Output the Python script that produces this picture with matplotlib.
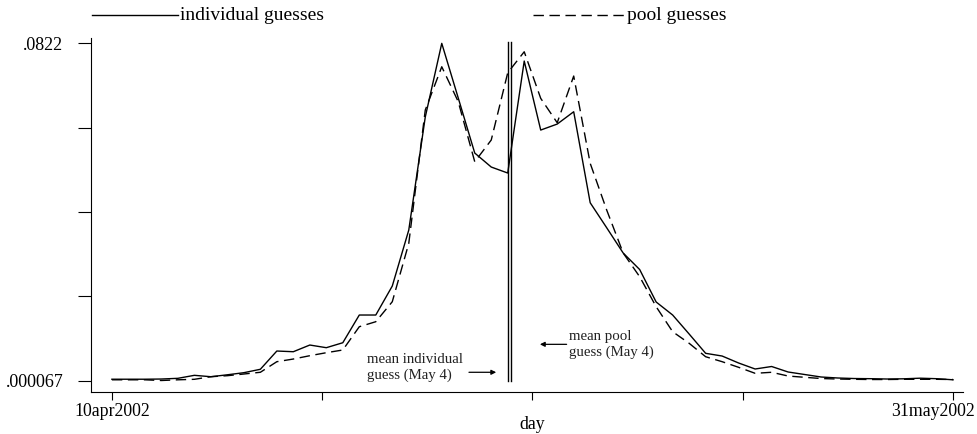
import numpy as np
import pandas as pd
import matplotlib
matplotlib.use('Agg')
import matplotlib.pyplot as plt
from matplotlib.lines import Line2D
from matplotlib.transforms import ScaledTranslation

plt.rcParams['font.family'] = ['Liberation Serif', 'DejaVu Serif']

# daily share of guesses, 10 Apr 2002 .. 31 May 2002
dates = pd.date_range('2002-04-10', '2002-05-31', freq='D')

individual = [0.00038, 0.00038, 0.00038, 0.00043, 0.00060, 0.00133, 0.00099, 0.00146,
              0.00197, 0.00280, 0.00725, 0.00708, 0.00871, 0.00806, 0.00927, 0.01602,
              0.01602, 0.02308, 0.03672, 0.06425, 0.08220, 0.06888, 0.05548, 0.05207,
              0.05061, 0.07789, 0.06108, 0.06254, 0.06554, 0.04337, 0.03728, 0.03112,
              0.02710, 0.01919, 0.01602, 0.01139, 0.00669, 0.00603, 0.00433, 0.00287,
              0.00348, 0.00214, 0.00153, 0.00092, 0.00068, 0.00055, 0.00051, 0.00043,
              0.00048, 0.00063, 0.00051, 0.00024]

pool = [0.00024, 0.00024, 0.00024, 0.000067, 0.00024, 0.00036, 0.00099, 0.00124,
        0.00165, 0.00207, 0.00465, 0.00530, 0.00611, 0.00684, 0.00750, 0.01317,
        0.01439, 0.01926, 0.03348, 0.06595, 0.07650, 0.06798, 0.05336, 0.05865,
        0.07504, 0.08015, 0.06880, 0.06286, 0.07424, 0.05297, 0.04160, 0.03112,
        0.02535, 0.01804, 0.01195, 0.00913, 0.00586, 0.00465, 0.00328, 0.00182,
        0.00207, 0.00116, 0.00085, 0.00055, 0.00043, 0.00036, 0.00031, 0.00031,
        0.00036, 0.00036, 0.00036, 0.00031]

mean_individual_day = 24.0   # May 4
mean_pool_day = 24.2         # May 4

y_ticks = [0.000067, 0.020600, 0.041133, 0.061667, 0.0822]
y_ticklabels = ['.000067', '', '', '', '.0822']
x_ticklabels = ['10apr2002', '', '', '', '31may2002']

days = np.asarray((dates - dates[0]).days, dtype=float)

fig = plt.figure(figsize=(9.78, 4.34), dpi=100)
ax = fig.add_axes([0.0930, 0.0968, 0.8916, 0.8156])

ax.plot(days, individual, color='black', lw=1.0)
ax.plot(days, pool, color='black', lw=1.0, dashes=(7.5, 4))

# mean guess markers (double vertical line)
for d in (mean_individual_day, mean_pool_day):
    ax.plot([d, d], [y_ticks[0], y_ticks[-1] + 0.0004], color='black', lw=1.0)

ax.set_xlim(-1.27, 51.6)
ax.set_ylim(-0.00273, 0.0835)

ax.set_xticks(np.linspace(days[0], days[-1], 5))
ax.set_xticklabels(x_ticklabels, fontsize=12.8)
ax.set_yticks(y_ticks)
ax.set_yticklabels(y_ticklabels, fontsize=13)
ax.tick_params(axis='y', length=9.4, width=0.8, pad=10.5)
ax.tick_params(axis='x', length=5.8, width=0.8, pad=2)

# last date label is pulled left so it stays inside the picture
last = ax.get_xticklabels()[-1]
last.set_transform(last.get_transform() + ScaledTranslation(-0.20, 0, fig.dpi_scale_trans))

for s in ('top', 'right'):
    ax.spines[s].set_visible(False)
for s in ('left', 'bottom'):
    ax.spines[s].set_linewidth(0.8)

ax.set_xlabel('day', fontsize=12.8)
ax.xaxis.set_label_coords(0.5057, -0.068)

# annotations
ax.text(15.45, 0.00328, 'mean individual\nguess (May 4)', fontsize=10.7,
        ha='left', va='center', linespacing=1.25, color='#222222')
ax.annotate('', xy=(23.3, 0.00207), xytext=(21.65, 0.00207),
            arrowprops=dict(arrowstyle='-|>', color='black', lw=0.9,
                            mutation_scale=7, shrinkA=0, shrinkB=0))
ax.text(27.7, 0.00891, 'mean pool\nguess (May 4)', fontsize=10.7,
        ha='left', va='center', linespacing=1.25, color='#222222')
ax.annotate('', xy=(25.95, 0.00888), xytext=(27.57, 0.00888),
            arrowprops=dict(arrowstyle='-|>', color='black', lw=0.9,
                            mutation_scale=7, shrinkA=0, shrinkB=0))

# legend row above the plot
ly = 1 - 15 / 434
fig.add_artist(Line2D([92 / 978, 178 / 978], [ly, ly], color='black', lw=1.0,
                      transform=fig.transFigure))
fig.text(180 / 978, ly, 'individual guesses', fontsize=14, ha='left', va='center')
fig.add_artist(Line2D([533 / 978, 625 / 978], [ly, ly], color='black', lw=1.0,
                      dashes=(7.5, 4), transform=fig.transFigure))
fig.text(627 / 978, ly, 'pool guesses', fontsize=14, ha='left', va='center')

fig.savefig('out.png', dpi=100)
